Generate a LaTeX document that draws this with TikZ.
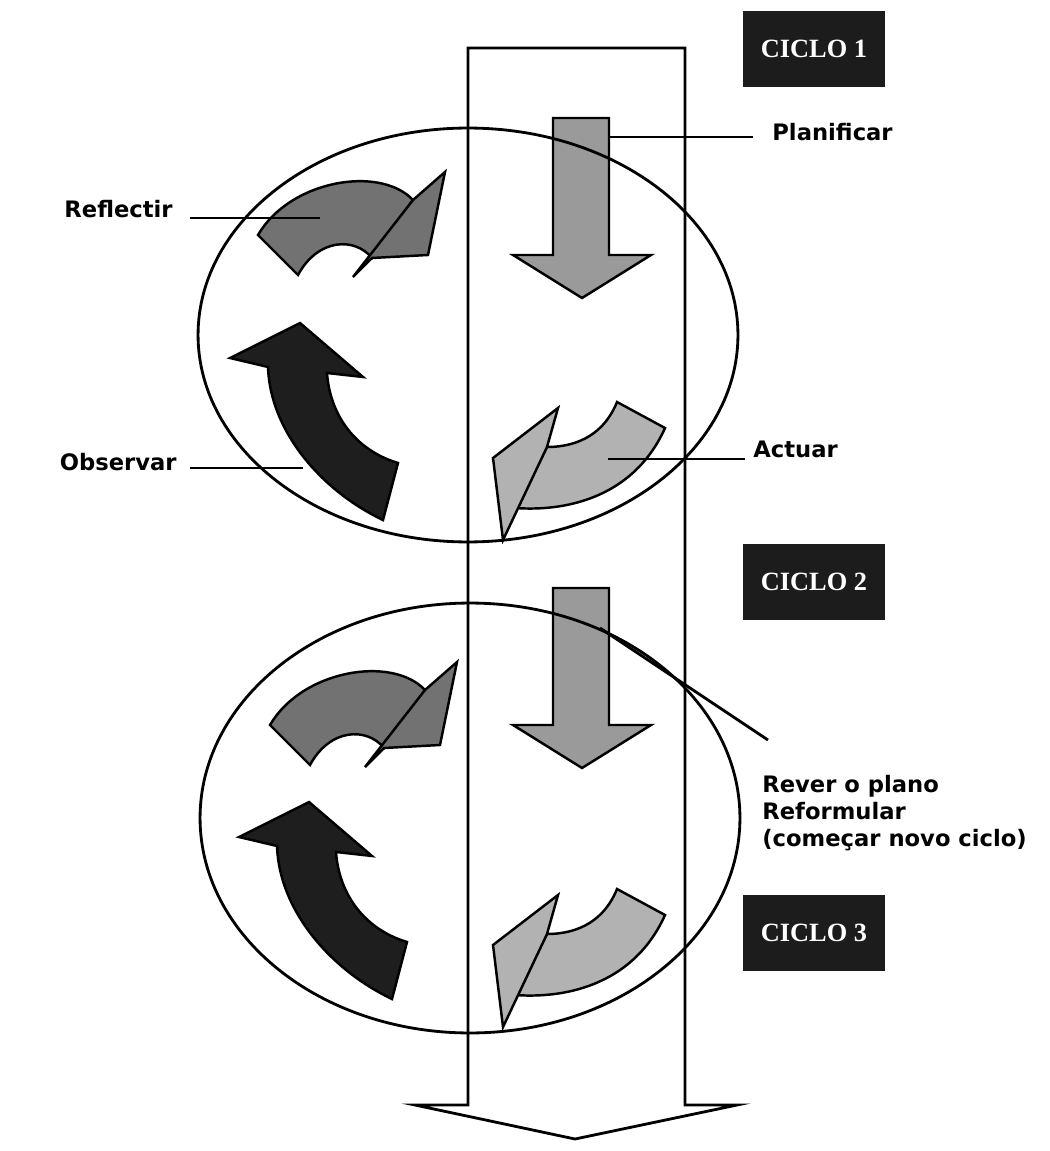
\documentclass[tikz,border=0pt]{standalone}
\usepackage{fontspec}
\setmainfont{DejaVu Sans}
\newfontfamily\ciclofont{Liberation Serif}
\definecolor{planc}{HTML}{9A9A9A}
\definecolor{reflc}{HTML}{727272}
\definecolor{obsc}{HTML}{1E1E1E}
\definecolor{actc}{HTML}{B2B2B2}
\definecolor{ciclobg}{HTML}{1C1C1C}
\tikzset{
  shapeline/.style={draw=black, line width=1.4pt, line join=miter},
  planarrow/.style={shapeline, fill=planc},
  reflarrow/.style={shapeline, fill=reflc},
  obsarrow/.style={shapeline, fill=obsc},
  actarrow/.style={shapeline, fill=actc},
  ring/.style={draw=black, line width=1.6pt},
  leader/.style={draw=black, line width=1.6pt},
  lab/.style={font=\bfseries\fontsize{12.9}{15.3}\selectfont, inner sep=0pt},
  ciclo/.style={fill=ciclobg, text=white, font=\ciclofont\bfseries\fontsize{15}{18}\selectfont,
    minimum width=80.5pt, minimum height=43pt, inner sep=0pt},
}
\newcommand\planpath{(553,118) -- (609,118) -- (609,255) -- (651,255) -- (582,298) -- (513,255) -- (553,255) -- cycle}
\newcommand\reflbody{(258,235) .. controls (290,180) and (380,165) .. (413,200) -- (372,258) .. controls (355,237) and (318,238) .. (298,275) -- cycle}
\newcommand\reflhead{(353,277) -- (413,200) -- (445,172) -- (428,255) -- (372,258) -- cycle}
\newcommand\obspath{(268,367) .. controls (270,430) and (320,490) .. (383,520) -- (398,463) .. controls (355,450) and (330,415) .. (327,373) -- (363,377) -- (300,323) -- (230,358) -- cycle}
\newcommand\actbody{(617,402) .. controls (605,432) and (580,447) .. (547,447) -- (515,508) .. controls (570,512) and (635,495) .. (665,428) -- cycle}
\newcommand\acthead{(503,540) -- (493,458) -- (558,408) -- (547,447) -- cycle}
\begin{document}
\begin{tikzpicture}[x=0.02cm,y=-0.02cm]
\useasboundingbox (0,0) rectangle (1049,1151);
\fill[white] (0,0) rectangle (1049,1151);

% ---- cycle 1 arrows
\path[planarrow] \planpath;
\path[reflarrow] \reflbody;
\path[reflarrow] \reflhead;
\path[obsarrow] \obspath;
\path[actarrow] \actbody;
\path[actarrow] \acthead;

% ---- cycle 2 arrows
\begin{scope}[shift={(0,470)}]
  \path[planarrow] \planpath;
\end{scope}
\begin{scope}[shift={(12,490)}]
  \path[reflarrow] \reflbody;
  \path[reflarrow] \reflhead;
\end{scope}
\begin{scope}[shift={(9,479)}]
  \path[obsarrow] \obspath;
\end{scope}
\begin{scope}[shift={(0,487)}]
  \path[actarrow] \actbody;
  \path[actarrow] \acthead;
\end{scope}

% ---- ellipses
\draw[ring] (468,335) ellipse [x radius=5.4cm, y radius=4.14cm];
\draw[ring] (470,818) ellipse [x radius=5.4cm, y radius=4.3cm];

% ---- big arrow
\draw[ring, line join=miter] (468,48) -- (685,48) -- (685,1105) -- (737,1105) -- (575,1139) -- (415,1105) -- (468,1105) -- cycle;

% ---- cycle labels
\node[ciclo] (c1) at (814,49) {CICLO 1};
\node[ciclo] (c2) at (814,582) {CICLO 2};
\node[ciclo] (c3) at (814,933) {CICLO 3};

% ---- text labels
\node[lab, anchor=base east] (refl) at (173,218) {Reflectir};
\node[lab, anchor=base east] (obs) at (177,470) {Observar};
\node[lab, anchor=base west] (plan) at (772,141) {Planificar};
\node[lab, anchor=base west] (act) at (753,458) {Actuar};
\node[lab, align=left, anchor=north west] (rever) at (762,775) {Rever o plano\\Reformular\\(começar novo ciclo)};

% ---- leader lines
\coordinate (reflA) at (190,218);
\coordinate (reflB) at (320,218);
\coordinate (obsA) at (190,468);
\coordinate (obsB) at (303,468);
\coordinate (planA) at (609,137);
\coordinate (planB) at (753,137);
\coordinate (actA) at (608,459);
\coordinate (actB) at (745,459);
\coordinate (revA) at (600,628);
\coordinate (revB) at (768,740);
\draw[leader] (reflA) -- (reflB);
\draw[leader] (obsA) -- (obsB);
\draw[leader] (planA) -- (planB);
\draw[leader] (actA) -- (actB);
\draw[leader] (revA) -- (revB);
\end{tikzpicture}
\end{document}
